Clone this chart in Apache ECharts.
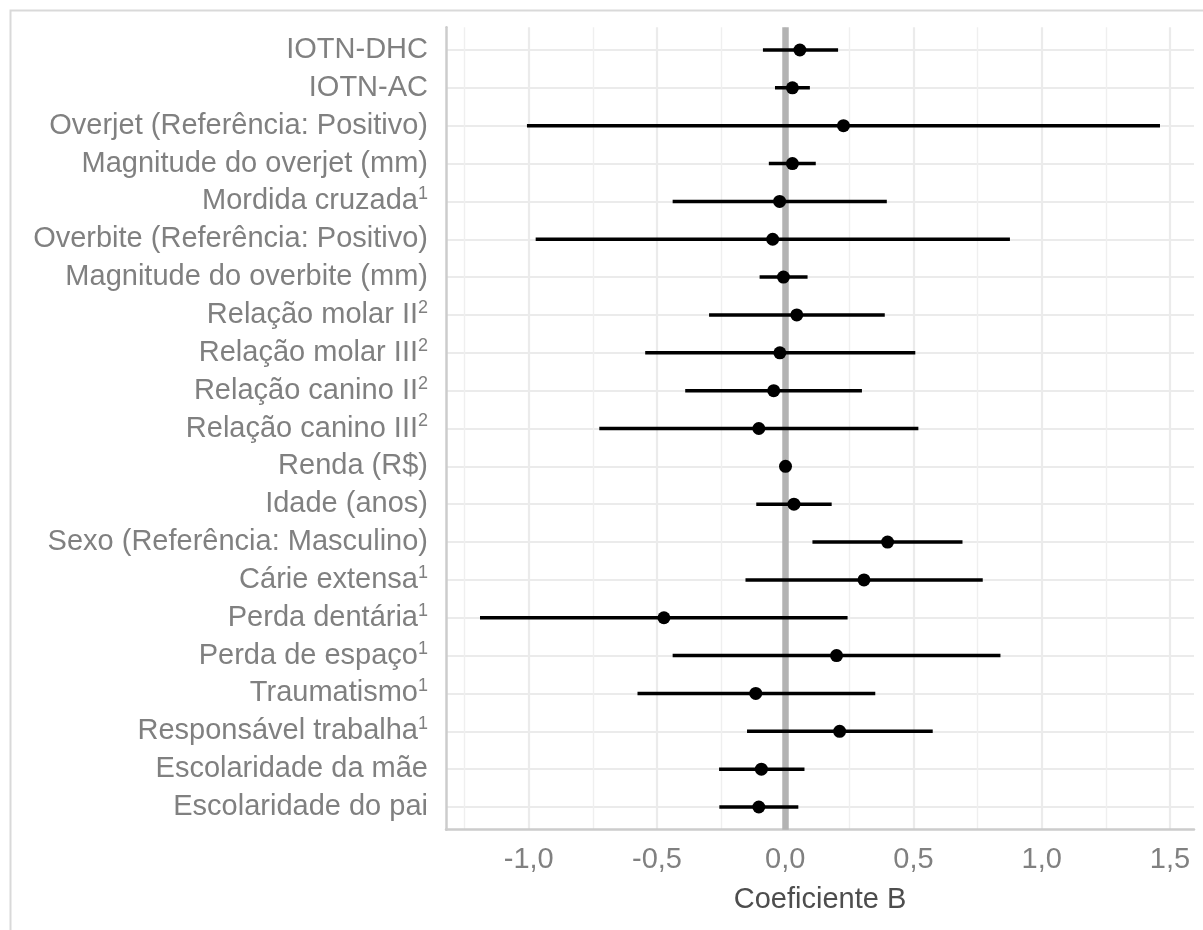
<!DOCTYPE html>
<html>
<head>
<meta charset="utf-8">
<script src="https://cdn.jsdelivr.net/npm/echarts@6/dist/echarts.min.js"></script>
<style>
  html, body { margin: 0; padding: 0; background: #ffffff; }
  #chart { width: 1203px; height: 930px; }
</style>
</head>
<body>
<div id="chart"></div>
<script>
// ---- Data ----
const categories = [
  'IOTN-DHC', 'IOTN-AC', 'Overjet (Referência: Positivo)', 'Magnitude do overjet (mm)',
  'Mordida cruzada', 'Overbite (Referência: Positivo)', 'Magnitude do overbite (mm)',
  'Relação molar II', 'Relação molar III', 'Relação canino II', 'Relação canino III',
  'Renda (R$)', 'Idade (anos)', 'Sexo (Referência: Masculino)', 'Cárie extensa',
  'Perda dentária', 'Perda de espaço', 'Traumatismo', 'Responsável trabalha',
  'Escolaridade da mãe', 'Escolaridade do pai'
];
const superscripts = ['', '', '', '', '1', '', '', '2', '2', '2', '2', '', '', '', '1', '1', '1', '1', '1', '', ''];
const estimate = [0.057, 0.028, 0.227, 0.028, -0.022, -0.049, -0.007, 0.045, -0.021, -0.045, -0.103,
                  0.001, 0.034, 0.399, 0.307, -0.473, 0.200, -0.115, 0.212, -0.093, -0.103];
const lower    = [-0.087, -0.040, -1.007, -0.064, -0.439, -0.973, -0.100, -0.297, -0.546, -0.390, -0.725,
                  -0.004, -0.113, 0.106, -0.155, -1.190, -0.439, -0.576, -0.149, -0.258, -0.257];
const upper    = [0.206, 0.096, 1.461, 0.119, 0.396, 0.876, 0.087, 0.388, 0.507, 0.299, 0.519,
                  0.006, 0.181, 0.691, 0.770, 0.243, 0.839, 0.351, 0.575, 0.075, 0.051];
const majorTicks = [-1, -0.5, 0, 0.5, 1, 1.5];
const minorTicks = [-1.25, -0.75, -0.25, 0.25, 0.75, 1.25];
const xTitle = 'Coeficiente B';

// ---- Build chart ----
const FONT = '"Liberation Sans", Arial, Helvetica, sans-serif';
const rowIdx = categories.map((_, i) => i + 1);
const ciData = categories.map((_, i) => [lower[i], upper[i], i + 1]);
const ptData = categories.map((_, i) => [estimate[i], i + 1]);

const chart = echarts.init(document.getElementById('chart'), null, { renderer: 'canvas' });
const option = {
  backgroundColor: '#ffffff',
  animation: false,
  graphic: [{
    type: 'rect', left: 8, top: 8, z: -10, silent: true,
    shape: { width: 1220, height: 950 },
    style: { fill: 'none', stroke: '#D9D9D9', lineWidth: 2 }
  }],
  grid: { left: 446, right: 9, top: 27.3, bottom: 100.3, containLabel: false },
  xAxis: [{
    type: 'value', min: -1.3226, max: 1.5936, position: 'bottom',
    axisLine: { show: true, onZero: false, lineStyle: { color: '#CCCCCC', width: 2.5 } },
    axisTick: { show: false, customValues: majorTicks },
    axisLabel: {
      customValues: majorTicks, margin: 16, fontSize: 29, color: '#808080', fontFamily: FONT,
      formatter: v => v.toFixed(1).replace('.', ',')
    },
    splitLine: { show: true, lineStyle: { color: '#EBEBEB', width: 2.2 } },
    name: xTitle, nameLocation: 'middle', nameGap: 56,
    nameTextStyle: { fontSize: 29, color: '#4D4D4D', fontFamily: FONT }
  }, {
    type: 'value', min: -1.3226, max: 1.5936, position: 'bottom',
    axisLine: { show: false, onZero: false },
    axisTick: { show: false, customValues: minorTicks },
    axisLabel: { show: false, customValues: minorTicks },
    splitLine: { show: true, lineStyle: { color: '#EFEFEF', width: 1.4 } }
  }],
  yAxis: {
    type: 'value', min: 0.4, max: 21.6, inverse: true,
    axisLine: { show: true, onZero: false, lineStyle: { color: '#CCCCCC', width: 2.5 } },
    axisTick: { show: false, customValues: rowIdx },
    splitLine: { show: true, lineStyle: { color: '#EBEBEB', width: 2.2 } },
    axisLabel: {
      customValues: rowIdx, margin: 18, fontFamily: FONT,
      formatter: v => {
        const i = Math.round(v) - 1;
        const name = categories[i] || '';
        const sup = superscripts[i] || '';
        return sup ? '{t|' + name + '}{s|' + sup + '}' : '{t|' + name + '}';
      },
      rich: {
        t: { fontSize: 29, color: '#808080', fontFamily: FONT, lineHeight: 32 },
        s: { fontSize: 18, color: '#808080', fontFamily: FONT, verticalAlign: 'top', lineHeight: 30 }
      }
    }
  },
  series: [{
    type: 'scatter', xAxisIndex: 0, data: [], z: 1, silent: true,
    markLine: {
      silent: true, symbol: 'none', label: { show: false }, z: 1,
      emphasis: { disabled: true },
      lineStyle: { color: '#B3B3B3', width: 6.5, type: 'solid' },
      data: [{ xAxis: 0 }]
    }
  }, {
    type: 'custom', xAxisIndex: 0, z: 3, silent: true,
    data: ciData,
    encode: { x: [0, 1], y: 2 },
    renderItem: (params, api) => {
      const p1 = api.coord([api.value(0), api.value(2)]);
      const p2 = api.coord([api.value(1), api.value(2)]);
      return {
        type: 'line',
        shape: { x1: p1[0], y1: p1[1], x2: p2[0], y2: p2[1] },
        style: { stroke: '#000000', lineWidth: 3.5 }
      };
    }
  }, {
    type: 'scatter', xAxisIndex: 0, z: 4, silent: true,
    data: ptData, symbol: 'circle', symbolSize: 13,
    itemStyle: { color: '#000000', opacity: 1 }
  }]
};
chart.setOption(option);
</script>
</body>
</html>
